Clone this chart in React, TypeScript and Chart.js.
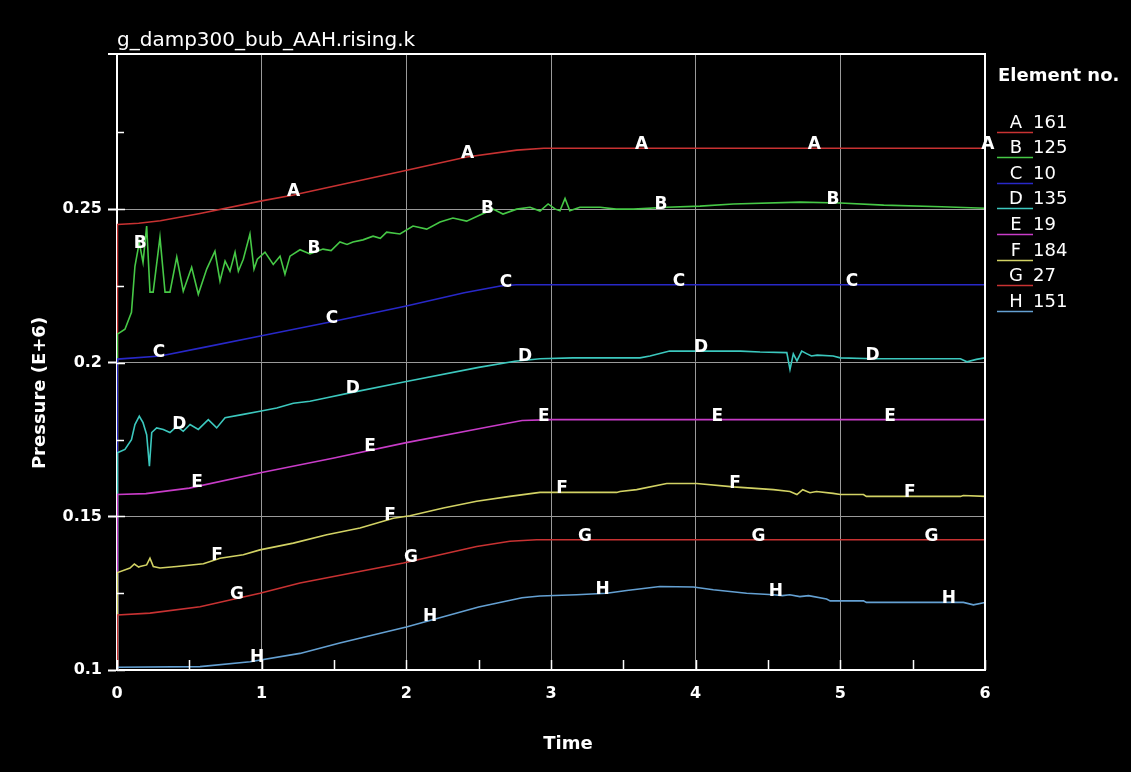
import React, { useEffect, useRef } from "react";
import { Chart, registerables } from "chart.js";

Chart.register(...registerables);

const seriesNames = ["A", "B", "C", "D", "E", "F", "G", "H"];
const elementNumbers = ["161", "125", "10", "135", "19", "184", "27", "151"];
const seriesColors = [
  "rgb(200,50,50)",
  "rgb(70,200,70)",
  "rgb(40,40,200)",
  "rgb(60,200,190)",
  "rgb(200,60,200)",
  "rgb(210,210,100)",
  "rgb(200,50,50)",
  "rgb(100,160,210)",
];

const xTicks = [0, 1, 2, 3, 4, 5, 6];
const xMinorTicks = [0.5, 1.5, 2.5, 3.5, 4.5, 5.5];
const yTicks = [0.1, 0.15, 0.2, 0.25];
const yMinorTicks = [0.125, 0.175, 0.225, 0.275];

const tA = [0, 0.003, 0.15, 0.3, 0.574, 1.0, 1.22, 1.956, 2.417, 2.763, 2.95, 6];
const vA = [0.1, 0.245, 0.2454, 0.2462, 0.2486, 0.2527, 0.2546, 0.2622, 0.267, 0.2692, 0.2698, 0.2698];

const tB = [0, 0.003, 0.055, 0.1, 0.124, 0.154, 0.18, 0.205, 0.228, 0.25, 0.297, 0.332, 0.366, 0.413, 0.458, 0.516, 0.562, 0.62, 0.677, 0.712, 0.747, 0.781, 0.816, 0.839, 0.873, 0.919, 0.947, 0.97, 1.023, 1.08, 1.127, 1.161, 1.196, 1.265, 1.334, 1.424, 1.48, 1.541, 1.59, 1.631, 1.7, 1.77, 1.82, 1.864, 1.956, 2.046, 2.141, 2.233, 2.322, 2.417, 2.509, 2.6, 2.668, 2.763, 2.855, 2.924, 2.98, 3.03, 3.062, 3.097, 3.13, 3.2, 3.34, 3.45, 3.57, 3.8, 4.03, 4.26, 4.72, 5.0, 5.3, 5.7, 6.0];
const vB = [0.1, 0.2093, 0.2109, 0.2164, 0.2314, 0.2392, 0.2327, 0.2445, 0.223, 0.223, 0.2409, 0.223, 0.223, 0.2344, 0.2233, 0.2311, 0.2223, 0.2305, 0.2363, 0.2266, 0.2331, 0.2298, 0.236, 0.2298, 0.2337, 0.2419, 0.2305, 0.2337, 0.236, 0.232, 0.2347, 0.2288, 0.2347, 0.2368, 0.2354, 0.237, 0.2365, 0.2393, 0.2385, 0.2393, 0.24, 0.2412, 0.2405, 0.2425, 0.2419, 0.2445, 0.2435, 0.2458, 0.2471, 0.2461, 0.2481, 0.25, 0.2484, 0.25, 0.2506, 0.2494, 0.2517, 0.25, 0.2495, 0.2535, 0.2495, 0.2506, 0.2506, 0.25, 0.25, 0.2506, 0.251, 0.2517, 0.2523, 0.252, 0.2513, 0.2508, 0.2503];

const tC = [0, 0.003, 0.3, 0.6, 1.0, 1.5, 2.0, 2.4, 2.65, 2.76, 6];
const vC = [0.1, 0.2012, 0.2022, 0.205, 0.2088, 0.2135, 0.2185, 0.2228, 0.225, 0.2254, 0.2254];

const tD = [0, 0.003, 0.055, 0.1, 0.124, 0.154, 0.18, 0.205, 0.224, 0.24, 0.274, 0.32, 0.366, 0.413, 0.458, 0.505, 0.562, 0.631, 0.689, 0.747, 0.873, 0.988, 1.104, 1.219, 1.334, 1.45, 1.61, 2.0, 2.5, 2.75, 2.924, 3.15, 3.615, 3.684, 3.82, 4.31, 4.445, 4.63, 4.652, 4.675, 4.7, 4.733, 4.77, 4.8, 4.84, 4.95, 5.0, 5.23, 5.83, 5.875, 5.94, 6];
const vD = [0.1, 0.1707, 0.1718, 0.175, 0.1799, 0.1826, 0.1805, 0.1766, 0.1663, 0.1773, 0.1788, 0.1783, 0.1773, 0.1793, 0.1777, 0.1799, 0.1783, 0.1815, 0.1788, 0.1821, 0.1832, 0.1842, 0.1853, 0.1868, 0.1875, 0.1886, 0.1902, 0.1939, 0.1985, 0.2005, 0.2013, 0.2016, 0.2016, 0.2022, 0.2038, 0.2038, 0.2035, 0.2033, 0.1978, 0.2029, 0.2006, 0.2038, 0.2029, 0.2022, 0.2025, 0.2022, 0.2016, 0.2013, 0.2013, 0.2003, 0.2011, 0.2016];

const tE = [0, 0.003, 0.2, 0.5, 1.0, 1.5, 2.0, 2.5, 2.8, 3.0, 6];
const vE = [0.1, 0.1571, 0.1574, 0.1592, 0.1643, 0.169, 0.174, 0.1785, 0.1812, 0.1815, 0.1815];

const tF = [0, 0.003, 0.09, 0.12, 0.15, 0.159, 0.205, 0.228, 0.251, 0.297, 0.413, 0.597, 0.712, 0.873, 0.988, 1.219, 1.45, 1.68, 1.91, 2.025, 2.256, 2.486, 2.716, 2.924, 3.454, 3.477, 3.592, 3.8, 4.007, 4.26, 4.537, 4.652, 4.7, 4.74, 4.79, 4.835, 4.95, 5.0, 5.16, 5.18, 5.83, 5.85, 6];
const vF = [0.1, 0.1317, 0.1332, 0.1345, 0.1335, 0.1337, 0.1342, 0.1364, 0.1337, 0.1332, 0.1337, 0.1346, 0.1364, 0.1375, 0.1391, 0.1413, 0.144, 0.1462, 0.1494, 0.1502, 0.1527, 0.1549, 0.1565, 0.1578, 0.1578, 0.1581, 0.1587, 0.1607, 0.1607, 0.1596, 0.1587, 0.1581, 0.1571, 0.1587, 0.1577, 0.1581, 0.1575, 0.1571, 0.1571, 0.1565, 0.1565, 0.1568, 0.1565];

const tG = [0, 0.003, 0.228, 0.574, 0.988, 1.265, 1.98, 2.486, 2.716, 2.9, 6];
const vG = [0.1, 0.1179, 0.1185, 0.1206, 0.125, 0.1283, 0.1348, 0.1402, 0.1419, 0.1424, 0.1424];

const tH = [0, 0.003, 0.574, 0.92, 1.265, 1.54, 2.0, 2.5, 2.8, 2.924, 3.177, 3.385, 3.523, 3.753, 3.984, 4.122, 4.352, 4.537, 4.6, 4.65, 4.72, 4.78, 4.905, 4.93, 5.16, 5.18, 5.85, 5.92, 6];
const vH = [0.1, 0.1009, 0.1011, 0.1027, 0.1054, 0.1088, 0.114, 0.1205, 0.1235, 0.1241, 0.1245, 0.125, 0.1259, 0.1272, 0.127, 0.1261, 0.125, 0.1245, 0.1242, 0.1245, 0.1239, 0.1242, 0.1231, 0.1225, 0.1225, 0.122, 0.122, 0.1212, 0.122];

const labelTimesA = [1.22, 2.423, 3.626, 4.82, 6.02];
const labelTimesB = [0.16, 1.362, 2.561, 3.76, 4.95];
const labelTimesC = [0.29, 1.486, 2.689, 3.885, 5.08];
const labelTimesD = [0.43, 1.63, 2.82, 4.037, 5.222];
const labelTimesE = [0.553, 1.749, 2.951, 4.15, 5.343];
const labelTimesF = [0.691, 1.887, 3.076, 4.272, 5.481];
const labelTimesG = [0.83, 2.032, 3.235, 4.434, 5.63];
const labelTimesH = [0.968, 2.164, 3.356, 4.555, 5.751];

const allTimes = [tA, tB, tC, tD, tE, tF, tG, tH];
const allValues = [vA, vB, vC, vD, vE, vF, vG, vH];
const allLabelTimes = [labelTimesA, labelTimesB, labelTimesC, labelTimesD, labelTimesE, labelTimesF, labelTimesG, labelTimesH];

const chartTitle = "g_damp300_bub_AAH.rising.k";
const xTitle = "Time";
const yTitle = "Pressure (E+6)";
const legendTitle = "Element no.";

const FONT = "'DejaVu Sans', sans-serif";

function interp(ts: number[], vs: number[], t: number): number {
  if (t <= ts[0]) return vs[0];
  for (let i = 1; i < ts.length; i++) {
    if (t <= ts[i]) {
      const f = (t - ts[i - 1]) / (ts[i] - ts[i - 1]);
      return vs[i - 1] + f * (vs[i] - vs[i - 1]);
    }
  }
  return vs[vs.length - 1];
}

const overlayPlugin = {
  id: "overlay",
  afterDraw(chart: any) {
    const { ctx, chartArea: ca } = chart;
    const x = chart.scales.x;
    const y = chart.scales.y;
    ctx.save();

    // top and right frame
    ctx.strokeStyle = "#ffffff";
    ctx.lineWidth = 2;
    ctx.beginPath();
    ctx.moveTo(ca.left - 9, ca.top);
    ctx.lineTo(ca.right, ca.top);
    ctx.lineTo(ca.right, ca.bottom);
    ctx.stroke();

    // inward ticks
    ctx.lineWidth = 1.5;
    ctx.beginPath();
    yTicks.forEach((v) => {
      const py = Math.round(y.getPixelForValue(v)) + 0.5;
      ctx.moveTo(ca.left, py);
      ctx.lineTo(ca.left + 8, py);
    });
    yMinorTicks.forEach((v) => {
      const py = Math.round(y.getPixelForValue(v)) + 0.5;
      ctx.moveTo(ca.left, py);
      ctx.lineTo(ca.left + 7, py);
    });
    xTicks.concat(xMinorTicks).forEach((v) => {
      const px = Math.round(x.getPixelForValue(v)) + 0.5;
      ctx.moveTo(px, ca.bottom);
      ctx.lineTo(px, ca.bottom - 10);
    });
    ctx.stroke();

    // curve labels
    ctx.fillStyle = "#ffffff";
    ctx.font = `bold 17px ${FONT}`;
    ctx.textAlign = "center";
    ctx.textBaseline = "alphabetic";
    allLabelTimes.forEach((lts, i) => {
      lts.forEach((t) => {
        const v = interp(allTimes[i], allValues[i], t);
        ctx.fillText(seriesNames[i], x.getPixelForValue(t), y.getPixelForValue(v) + 1);
      });
    });

    // chart title
    ctx.textAlign = "left";
    ctx.font = `20px ${FONT}`;
    ctx.fillText(chartTitle, ca.left, 46);

    // axis titles
    ctx.font = `bold 18px ${FONT}`;
    ctx.textAlign = "center";
    ctx.textBaseline = "middle";
    ctx.fillText(xTitle, 568, 744);
    ctx.save();
    ctx.translate(40, 393);
    ctx.rotate(-Math.PI / 2);
    ctx.fillText(yTitle, 0, 0);
    ctx.restore();

    // legend
    ctx.textAlign = "left";
    ctx.font = `bold 18px ${FONT}`;
    ctx.fillText(legendTitle, 998, 76);
    ctx.font = `18px ${FONT}`;
    seriesNames.forEach((n, i) => {
      const cy = 123 + i * 25.6;
      ctx.textAlign = "center";
      ctx.fillStyle = "#ffffff";
      ctx.fillText(n, 1016, cy);
      ctx.textAlign = "left";
      ctx.fillText(elementNumbers[i], 1033, cy);
      ctx.strokeStyle = seriesColors[i];
      ctx.lineWidth = 1.5;
      ctx.beginPath();
      ctx.moveTo(997, Math.round(cy + 8.5) + 0.5);
      ctx.lineTo(1033, Math.round(cy + 8.5) + 0.5);
      ctx.stroke();
    });

    ctx.restore();
  },
};

export default function App() {
  const canvasRef = useRef<HTMLCanvasElement | null>(null);

  useEffect(() => {
    document.body.style.margin = "0";
    document.body.style.background = "#000";
    const canvas = canvasRef.current;
    if (!canvas) return;

    const datasets = seriesNames.map((n, i) => ({
      label: n,
      data: allTimes[i].map((t, k) => ({ x: t, y: allValues[i][k] })),
      borderColor: seriesColors[i],
      backgroundColor: seriesColors[i],
      borderWidth: 1.6,
      pointRadius: 0,
      tension: 0,
      fill: false,
      order: seriesNames.length - i,
    }));

    const chart = new Chart(canvas, {
      type: "line",
      data: { datasets },
      options: {
        responsive: false,
        devicePixelRatio: 1,
        animation: false,
        events: [],
        layout: { padding: { top: 54, right: 146, left: 0, bottom: 0 } },
        plugins: {
          legend: { display: false },
          tooltip: { enabled: false },
          title: { display: false },
        },
        scales: {
          x: {
            type: "linear",
            min: 0,
            max: 6,
            afterBuildTicks: (s: any) => {
              s.ticks = xTicks.map((v) => ({ value: v }));
            },
            afterFit: (s: any) => {
              s.height = 102;
            },
            grid: { color: "#9a9a9a", lineWidth: 1, drawTicks: false },
            border: { display: true, color: "#ffffff", width: 2 },
            ticks: {
              color: "#ffffff",
              font: { family: FONT, size: 16, weight: "bold" },
              padding: 14,
              maxRotation: 0,
              callback: (v: any) => String(v),
            },
          },
          y: {
            type: "linear",
            min: 0.1,
            max: 0.3005,
            afterBuildTicks: (s: any) => {
              s.ticks = yTicks.map((v) => ({ value: v }));
            },
            afterFit: (s: any) => {
              s.width = 117;
            },
            grid: { color: "#9a9a9a", lineWidth: 1, drawTicks: true, tickLength: 9, tickColor: "#ffffff", tickWidth: 2 },
            border: { display: true, color: "#ffffff", width: 2 },
            ticks: {
              color: "#ffffff",
              font: { family: FONT, size: 16, weight: "bold" },
              padding: 6,
              callback: (v: any) => String(v),
            },
          },
        },
      },
      plugins: [overlayPlugin],
    });

    return () => chart.destroy();
  }, []);

  return (
    <div style={{ width: 1131, height: 772, background: "#000" }}>
      <canvas ref={canvasRef} width={1131} height={772} style={{ display: "block" }} />
    </div>
  );
}
